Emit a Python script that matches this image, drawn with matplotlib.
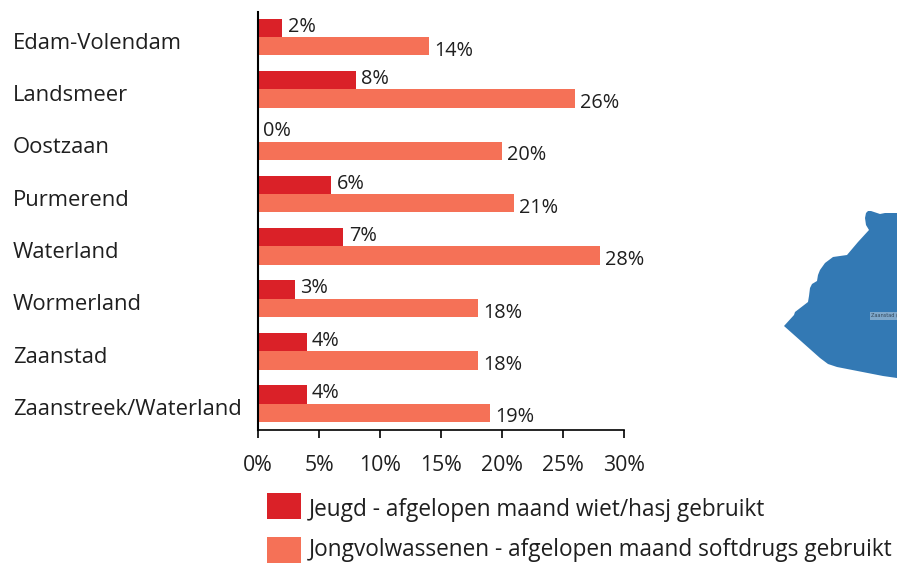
import matplotlib
matplotlib.use('Agg')
import matplotlib.pyplot as plt
from matplotlib.patches import Polygon, Rectangle

W = 897
H = 564

regions = ['Edam-Volendam', 'Landsmeer', 'Oostzaan', 'Purmerend', 'Waterland',
           'Wormerland', 'Zaanstad', 'Zaanstreek/Waterland']
jeugd = [2, 8, 0, 6, 7, 3, 4, 4]
jongvolw = [14, 26, 20, 21, 28, 18, 18, 19]
xticks = [0, 5, 10, 15, 20, 25, 30]
legend_labels = ['Jeugd - afgelopen maand wiet/hasj gebruikt',
                 'Jongvolwassenen - afgelopen maand softdrugs gebruikt']

# outline of the map piece on the right, in pixels
map_x = [866, 868, 871, 880, 885, 897, 897, 883, 837, 828, 820, 784, 794, 795, 808, 809, 810,
         812, 817, 818, 820, 825, 833, 847, 858, 869, 866, 865]
map_y = [213, 211, 211, 214, 213, 213, 378, 376, 367, 364, 358, 326, 315, 312, 302, 296, 288,
         284, 281, 275, 270, 263, 257, 255, 242, 230, 225, 218]

red = '#DA2128'
orange = '#F57157'
blue = '#3379B4'
textc = '#1F1F1F'
font = 'Open Sans'

plt.rcParams['font.family'] = font

fig = plt.figure(figsize=(W / 100, H / 100), dpi=100)

# full figure overlay in pixel coords for map and legend
bg = fig.add_axes([0, 0, 1, 1])
bg.set_xlim(0, W)
bg.set_ylim(H, 0)
bg.axis('off')

bg.add_patch(Polygon(list(zip(map_x, map_y)), closed=True, fc=blue, ec='none'))
bg.add_patch(Rectangle((870, 312), 27, 8, fc='#7FA8CB', ec='none'))
bg.text(871, 316, 'Zaanstad (', fontsize=3.6, color='#33475A', va='center', ha='left',
        family='DejaVu Sans', clip_on=True)

for y, ty, c, lab in zip([505.5, 550], [510.5, 550.5], [red, orange], legend_labels):
    bg.add_patch(Rectangle((267, y - 13), 34, 26, fc=c, ec='none'))
    bg.text(309, ty, lab, fontsize=16.3, color=textc, va='center', ha='left')

# bars
ax = fig.add_axes([258 / W, 1 - 430 / H, (624 - 258) / W, (430 - 12) / H])
ax.patch.set_alpha(0)
ypos = list(range(len(regions)))
h = 0.352
ax.barh([y - h / 2 for y in ypos], jeugd, height=h, color=red, linewidth=0)
ax.barh([y + h / 2 for y in ypos], jongvolw, height=h, color=orange, linewidth=0)
ax.set_xlim(0, 30)
ax.set_ylim(7.506, -0.477)

for y, a, b in zip(ypos, jeugd, jongvolw):
    ax.annotate('%d%%' % a, (a, y - h / 2), xytext=(3.8, 0.8), textcoords='offset points',
                fontsize=14.3, color=textc, va='center', ha='left')
    ax.annotate('%d%%' % b, (b, y + h / 2), xytext=(3.8, -3.3), textcoords='offset points',
                fontsize=14.3, color=textc, va='center', ha='left')

ax.set_yticks(ypos)
ax.set_yticklabels(regions, fontsize=15.8, color=textc, ha='left')
ax.tick_params(axis='y', length=0, pad=244 * 0.72 + 0.7)
for lab in ax.get_yticklabels():
    lab.set_transform(lab.get_transform() + matplotlib.transforms.ScaledTranslation(0, -3.7 / 100, fig.dpi_scale_trans))
ax.set_xticks(xticks)
ax.set_xticklabels(['%d%%' % t for t in xticks], fontsize=15.3, color=textc)
ax.tick_params(axis='x', length=6, width=1.2, color='black', direction='out', pad=12)

for s in ['top', 'right']:
    ax.spines[s].set_visible(False)
ax.spines['left'].set_linewidth(1.5)
ax.spines['bottom'].set_linewidth(1.2)

plt.savefig('out.png', dpi=100)
